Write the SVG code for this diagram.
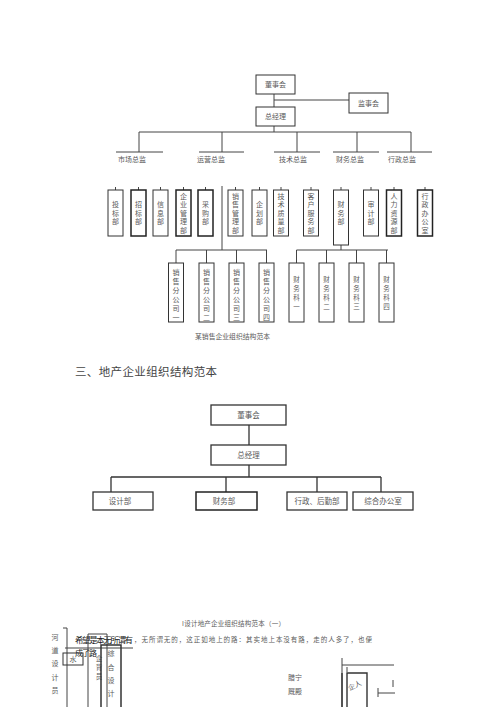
<svg xmlns="http://www.w3.org/2000/svg" width="500" height="707" viewBox="0 0 500 707">
<style>
text{font-family:"Noto Sans CJK SC","Liberation Serif",serif;fill:#5a5a5a}
.t{font-size:7px;text-anchor:middle}
.v{font-size:7px;text-anchor:middle}
.k{font-size:6.5px;text-anchor:middle}
.b{fill:#fff;stroke:#333;stroke-width:1}
.bd{fill:#fff;stroke:#222;stroke-width:1.5}
.l{stroke:#444;stroke-width:1;fill:none}
.l2{stroke:#333;stroke-width:1.3;fill:none}
</style>
<rect width="500" height="707" fill="#fff"/>
<g id="connectors">
  <path class="l" d="M274 94V107M274 100H349M274 126V132M139 132H411M139 132V152M222 132V152M297 132V152M357 132V152M411 132V152"/>
  <path class="l" d="M116 152H163M199 152H244M274 152H320M333 152H379M387 152H432"/>
  <path class="l" d="M115.5 187V190M138.5 187V190M160.5 187V190M183.5 187V190M205.5 187V190M235.5 187V190M259.5 187V190M281 187V190M311 187V190M341 187V190M371 187V190M394 187V190M425 187V190"/>
  <path class="l" d="M222 186V250M176 250H267M176 250V263M206.5 250V263M236.5 250V263M266.5 250V263"/>
  <path class="l" d="M341 245V250M296.5 250H388M296.5 250V263M326.5 250V263M356.5 250V263M386.5 250V263"/>
  <path class="l2" d="M249 425V445M249 465V477M111 477H381M111 477V492M226 477V492M317 477V492M381 477V492"/>
</g>
<g id="n-dongshihui"><rect class="b" x="256" y="75" width="39" height="19"/><text class="t" x="275.5" y="87">董事会</text></g>
<g id="n-jianshihui"><rect class="b" x="349" y="93" width="39" height="20"/><text class="t" x="368.5" y="106">监事会</text></g>
<g id="n-zongjingli"><rect class="b" x="256" y="107" width="39" height="19"/><text class="t" x="275.5" y="119">总经理</text></g>
<g id="n-shichang"><text class="t" x="132" y="162">市场总监</text></g>
<g id="n-yunying"><text class="t" x="211" y="162">运营总监</text></g>
<g id="n-jishu"><text class="t" x="293" y="162">技术总监</text></g>
<g id="n-caiwuzj"><text class="t" x="350" y="162">财务总监</text></g>
<g id="n-xingzheng"><text class="t" x="402" y="162">行政总监</text></g>

<g id="n-toubiao"><rect class="b" x="108" y="190" width="15" height="46"/><text class="v" x="115.5" y="207">投<tspan x="115.5" dy="8.5">标</tspan><tspan x="115.5" dy="8.5">部</tspan></text></g>
<g id="n-zhaobiao"><rect class="bd" x="131" y="190" width="15" height="46"/><text class="v" x="138.5" y="207">招<tspan x="138.5" dy="8.5">标</tspan><tspan x="138.5" dy="8.5">部</tspan></text></g>
<g id="n-xinxi"><rect class="b" x="153" y="190" width="15" height="46"/><text class="v" x="160.5" y="207">信<tspan x="160.5" dy="8.5">息</tspan><tspan x="160.5" dy="8.5">部</tspan></text></g>
<g id="n-qiyeguanli"><rect class="bd" x="176" y="190" width="15" height="46"/><text class="v" x="183.5" y="198.5">企<tspan x="183.5" dy="8.5">业</tspan><tspan x="183.5" dy="8.5">管</tspan><tspan x="183.5" dy="8.5">理</tspan><tspan x="183.5" dy="8.5">部</tspan></text></g>
<g id="n-caigou"><rect class="bd" x="198" y="190" width="15" height="46"/><text class="v" x="205.5" y="207">采<tspan x="205.5" dy="8.5">购</tspan><tspan x="205.5" dy="8.5">部</tspan></text></g>
<g id="n-xiaoshouguanli"><rect class="b" x="228" y="190" width="15" height="46"/><text class="v" x="235.5" y="198.5">销<tspan x="235.5" dy="8.5">售</tspan><tspan x="235.5" dy="8.5">管</tspan><tspan x="235.5" dy="8.5">理</tspan><tspan x="235.5" dy="8.5">部</tspan></text></g>
<g id="n-qihua"><rect class="b" x="252" y="190" width="15" height="46"/><text class="v" x="259.5" y="207">企<tspan x="259.5" dy="8.5">划</tspan><tspan x="259.5" dy="8.5">部</tspan></text></g>
<g id="n-jishuzhiliang"><rect class="b" x="273.5" y="190" width="15" height="46"/><text class="v" x="281" y="198.5">技<tspan x="281" dy="8.5">术</tspan><tspan x="281" dy="8.5">质</tspan><tspan x="281" dy="8.5">量</tspan><tspan x="281" dy="8.5">部</tspan></text></g>
<g id="n-kehufuwu"><rect class="b" x="303.5" y="190" width="15" height="46"/><text class="v" x="311" y="198.5">客<tspan x="311" dy="8.5">户</tspan><tspan x="311" dy="8.5">服</tspan><tspan x="311" dy="8.5">务</tspan><tspan x="311" dy="8.5">部</tspan></text></g>
<g id="n-caiwubu"><rect class="b" x="333.5" y="190" width="15" height="55"/><text class="v" x="341" y="207">财<tspan x="341" dy="8.5">务</tspan><tspan x="341" dy="8.5">部</tspan></text></g>
<g id="n-shenji"><rect class="b" x="363.5" y="190" width="15" height="46"/><text class="v" x="371" y="207">审<tspan x="371" dy="8.5">计</tspan><tspan x="371" dy="8.5">部</tspan></text></g>
<g id="n-renli"><rect class="bd" x="386.5" y="190" width="15" height="46"/><text class="v" x="394" y="198.5">人<tspan x="394" dy="8.5">力</tspan><tspan x="394" dy="8.5">资</tspan><tspan x="394" dy="8.5">源</tspan><tspan x="394" dy="8.5">部</tspan></text></g>
<g id="n-xingzhengban"><rect class="bd" x="417.5" y="190" width="15" height="46"/><text class="v" x="425" y="198.5">行<tspan x="425" dy="8.5">政</tspan><tspan x="425" dy="8.5">办</tspan><tspan x="425" dy="8.5">公</tspan><tspan x="425" dy="8.5">室</tspan></text></g>

<g id="n-fgs1"><rect class="b" x="168.5" y="263" width="15" height="59"/><text class="v" x="176" y="274.5">销<tspan x="176" dy="9">售</tspan><tspan x="176" dy="9">分</tspan><tspan x="176" dy="9">公</tspan><tspan x="176" dy="9">司</tspan><tspan x="176" dy="9">一</tspan></text></g>
<g id="n-fgs2"><rect class="b" x="199" y="263" width="15" height="59"/><text class="v" x="206.5" y="274.5">销<tspan x="206.5" dy="9">售</tspan><tspan x="206.5" dy="9">分</tspan><tspan x="206.5" dy="9">公</tspan><tspan x="206.5" dy="9">司</tspan><tspan x="206.5" dy="9">二</tspan></text></g>
<g id="n-fgs3"><rect class="b" x="229" y="263" width="15" height="59"/><text class="v" x="236.5" y="274.5">销<tspan x="236.5" dy="9">售</tspan><tspan x="236.5" dy="9">分</tspan><tspan x="236.5" dy="9">公</tspan><tspan x="236.5" dy="9">司</tspan><tspan x="236.5" dy="9">三</tspan></text></g>
<g id="n-fgs4"><rect class="b" x="259" y="263" width="15" height="59"/><text class="v" x="266.5" y="274.5">销<tspan x="266.5" dy="9">售</tspan><tspan x="266.5" dy="9">分</tspan><tspan x="266.5" dy="9">公</tspan><tspan x="266.5" dy="9">司</tspan><tspan x="266.5" dy="9">四</tspan></text></g>
<g id="n-cwk1"><rect class="b" x="289" y="263" width="15" height="59"/><text class="k" x="296.5" y="281.5">财<tspan x="296.5" dy="9">务</tspan><tspan x="296.5" dy="9">科</tspan><tspan x="296.5" dy="9">一</tspan></text></g>
<g id="n-cwk2"><rect class="b" x="319" y="263" width="15" height="59"/><text class="k" x="326.5" y="281.5">财<tspan x="326.5" dy="9">务</tspan><tspan x="326.5" dy="9">科</tspan><tspan x="326.5" dy="9">二</tspan></text></g>
<g id="n-cwk3"><rect class="b" x="349" y="263" width="15" height="59"/><text class="k" x="356.5" y="281.5">财<tspan x="356.5" dy="9">务</tspan><tspan x="356.5" dy="9">科</tspan><tspan x="356.5" dy="9">三</tspan></text></g>
<g id="n-cwk4"><rect class="b" x="379" y="263" width="15" height="59"/><text class="k" x="386.5" y="281.5">财<tspan x="386.5" dy="9">务</tspan><tspan x="386.5" dy="9">科</tspan><tspan x="386.5" dy="9">四</tspan></text></g>

<text x="195" y="339" style="font-size:6.8px" textLength="75">某销售企业组织结构范本</text>

<text x="75" y="376" style="font-size:11.5px;fill:#444" textLength="142">三、地产企业组织结构范本</text>

<g id="m-dongshihui"><rect class="b" x="211" y="405" width="75" height="20" style="stroke-width:1.3"/><text class="t" x="248.5" y="418" style="font-size:7.5px">董事会</text></g>
<g id="m-zongjingli"><rect class="b" x="211" y="445" width="75" height="20" style="stroke-width:1.3"/><text class="t" x="248.5" y="458" style="font-size:7.5px">总经理</text></g>
<g id="m-sheji"><rect class="b" x="93" y="492" width="60" height="18" style="stroke-width:1.3"/><text class="t" x="120" y="504" style="font-size:7.5px">设计部</text></g>
<g id="m-caiwu"><rect class="bd" x="196" y="492" width="61" height="18"/><text class="t" x="224" y="504" style="font-size:7.5px">财务部</text></g>
<g id="m-xingzheng"><rect class="b" x="287" y="492" width="60" height="18" style="stroke-width:1.3"/><text class="t" x="317" y="504" style="font-size:7.5px">行政、后勤部</text></g>
<g id="m-zonghe"><rect class="b" x="353" y="492" width="60" height="18" style="stroke-width:1.3"/><text class="t" x="383" y="504" style="font-size:7.5px">综合办公室</text></g>

<text x="182" y="626" style="font-size:6.5px" textLength="103">I设计地产企业组织结构范本（一）</text>
<path class="l" d="M63 628H67V707M65 648H133"/>
<g style="font-size:7.5px;fill:#666">
  <text x="55" y="640" class="t">河</text><text x="55" y="653" class="t">道</text><text x="55" y="666" class="t">设</text><text x="55" y="680" class="t">计</text><text x="55" y="693" class="t">员</text>
</g>
<text x="75" y="643" style="font-size:8.5px;fill:#222" textLength="58">希望是本无所谓有</text>
<text x="134" y="642" style="font-size:6.5px" textLength="238">，无所谓无的，这正如地上的路：其实地上本没有路，走的人多了，也便</text>
<text x="75" y="656" style="font-size:8px;fill:#222" textLength="22">成了路</text>
<rect class="b" x="63" y="653" width="20" height="12" style="fill:none"/>
<text x="73" y="662" class="t">水</text>
<path class="l" d="M88 707V634H107V707"/>
<text x="99" y="661" class="k">企</text><text x="99" y="670" class="k">背</text><text x="99" y="679" class="k">员</text>
<path class="l2" d="M101 707V645H121V707" style="stroke-width:1.5"/>
<text x="111" y="656" class="t">综</text><text x="111" y="670" class="t">合</text><text x="111" y="683" class="t">设</text><text x="111" y="696" class="t">计</text>
<text x="295" y="680" class="t">腊宁</text>
<text x="295" y="694" class="t">厩殿</text>
<path class="l" d="M342 658V707M342 665H394M347 667V672"/>
<path class="l2" d="M342 673V707M347 707V673H367V707" style="stroke-width:1.4"/>
<text x="355" y="688" class="t" transform="rotate(-25 355 686)">企人</text>
<path class="l" d="M378 688V697M378 693H395M393 680V687"/>
</svg>
